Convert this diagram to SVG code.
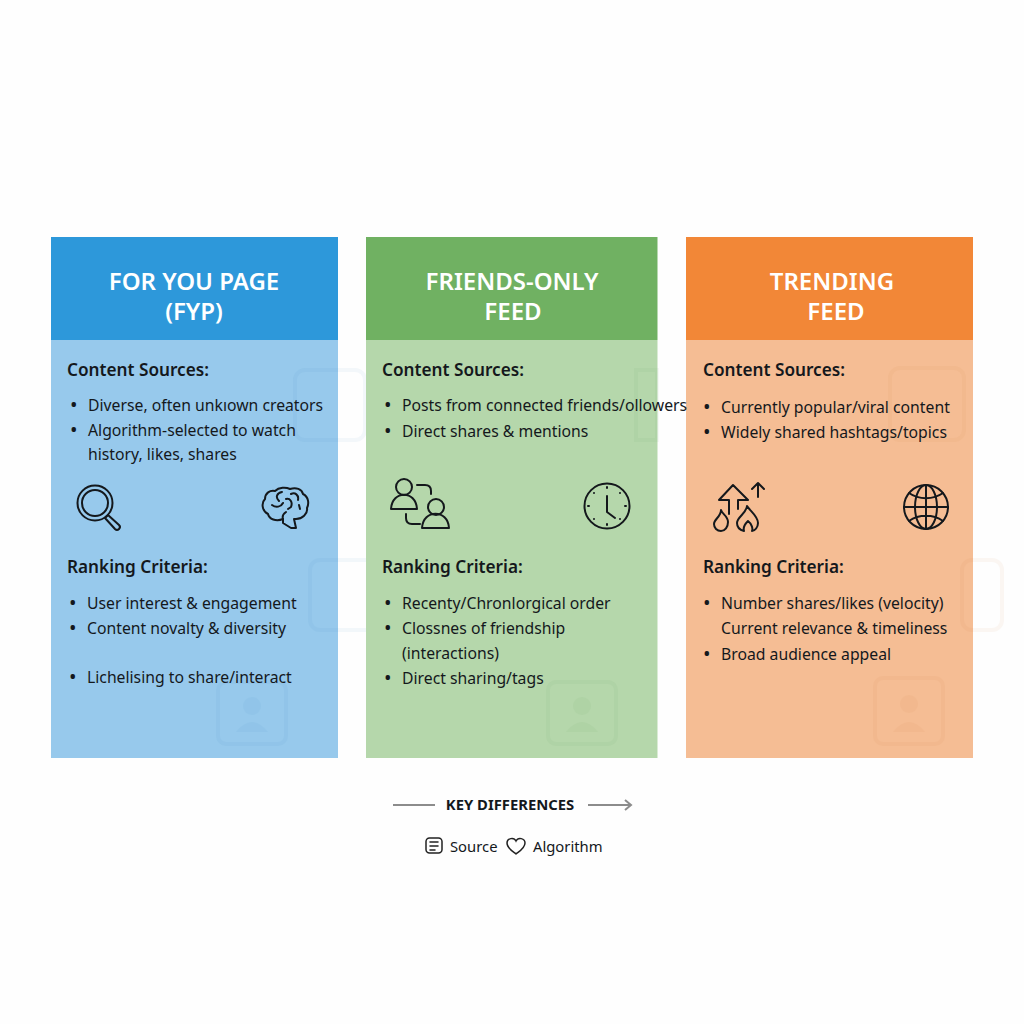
<svg xmlns="http://www.w3.org/2000/svg" width="1024" height="1024" viewBox="0 0 1024 1024">
<style>
text{font-family:"Noto Sans","Open Sans","Liberation Sans",sans-serif;fill:#14181c}
.h{font-size:24px;font-weight:600;fill:#fff;text-anchor:middle}
.s{font-size:17.200px;font-weight:600}
.b{font-size:15.750px}
.d{font-size:20px}
.i{fill:none;stroke:#14181c;stroke-width:2;stroke-linecap:round;stroke-linejoin:round}
.w{fill:none;stroke-width:4;opacity:.05}
.wf{stroke:none;opacity:.05}
</style>
<rect width="1024" height="1024" fill="#fefefe"/>
<g id="fyp">
<rect x="51" y="340" width="287" height="418" fill="#97c9ec"/>
<rect x="51" y="237" width="287" height="103" fill="#2d98da"/>
<g stroke="#2d7fb8" class="w"><rect x="295" y="370" width="70" height="70" rx="10"/><rect x="310" y="560" width="70" height="70" rx="10"/><rect x="218" y="682" width="68" height="62" rx="8"/></g>
<g fill="#2d7fb8" class="wf"><circle cx="252" cy="706" r="9"/><path d="M236 732q16-20 32 0z"/></g>
<text class="h" x="194" y="290">FOR YOU PAGE</text><text class="h" x="194" y="320">(FYP)</text>
<text class="s" x="67" y="376">Content Sources:</text>
<text class="d" x="70" y="412">•</text><text class="b" x="88" y="411">Diverse, often unkıown creators</text>
<text class="d" x="70" y="437">•</text><text class="b" x="88" y="436">Algorithm-selected to watch</text>
<text class="b" x="88" y="460">history, likes, shares</text>
<g class="i"><circle cx="95" cy="503" r="17.500"/><circle cx="95" cy="503" r="13"/><path d="M105 518l3-3 11 10a2.700 2.700 0 0 1-4 4z"/></g>
<g class="i"><path d="M283 519c-7 3-14 0-15-5-6-3-7-11-3-15 0-6 5-9 10-8 4-4 11-4 15-2 6-2 12 0 13 5 6 3 6 10 4 14 1 6-5 11-11 11h-2l2 9h-5l-8-5z"/><path d="M272 505c4 3 9 2 11-2M282 492c-5 1-7 5-3 9M291 494c4-2 8 1 7 6M286 499c4-1 7 3 5 8l-3 2M299 505l1 4M283 519c-1-3 0-5 3-7"/></g>
<text class="s" x="67" y="573">Ranking Criteria:</text>
<text class="d" x="69" y="610">•</text><text class="b" x="87" y="609">User interest &amp; engagement</text>
<text class="d" x="69" y="635">•</text><text class="b" x="87" y="634">Content novalty &amp; diversity</text>
<text class="d" x="69" y="684">•</text><text class="b" x="87" y="683">Lichelising to share/interact</text>
</g>
<g id="trending">
<rect x="686" y="340" width="287" height="418" fill="#f5bd94"/>
<rect x="686" y="237" width="287" height="103" fill="#f28737"/>
<g stroke="#c96f2c" class="w"><rect x="890" y="368" width="74" height="72" rx="10"/><rect x="962" y="560" width="40" height="70" rx="10"/><rect x="875" y="678" width="68" height="66" rx="8"/></g>
<g fill="#c96f2c" class="wf"><circle cx="909" cy="704" r="9"/><path d="M893 732q16-20 32 0z"/></g>
<text class="h" x="832" y="290">TRENDING</text><text class="h" x="836" y="320">FEED</text>
<text class="s" x="703" y="376">Content Sources:</text>
<text class="d" x="703" y="414">•</text><text class="b" x="721" y="413">Currently popular/viral content</text>
<text class="d" x="703" y="439">•</text><text class="b" x="721" y="438">Widely shared hashtags/topics</text>
<g class="i"><path d="M729 514v-14h-10l14-15 15 15h-10v9M758 497v-14M752 489l6-6 6 6"/><path d="M721 510c1 4 7 6 7 12 0 5-3 9-7 9-4 0-7-3-7-7 0-5 7-7 7-14z"/><path d="M747 506c3 5 11 10 11 17 0 4-3 8-6 8 1-2 0-7-4-10-3 3-5 7-4 10-4-1-7-4-7-8 0-6 9-9 10-17z"/></g>
<g class="i"><circle cx="926" cy="507" r="22"/><ellipse cx="926" cy="507" rx="11" ry="22"/><path d="M926 485v44M904 507h44M909 493c10 7 24 7 34 0M909 521c10-7 24-7 34 0"/></g>
<text class="s" x="703" y="573">Ranking Criteria:</text>
<text class="d" x="703" y="610">•</text><text class="b" x="721" y="609">Number shares/likes (velocity)</text>
<text class="b" x="721" y="634">Current relevance &amp; timeliness</text>
<text class="d" x="703" y="661">•</text><text class="b" x="721" y="660">Broad audience appeal</text>
</g>
<g id="friends">
<rect x="366" y="340" width="291.500" height="418" fill="#b5d7ab"/>
<rect x="366" y="237" width="291.500" height="103" fill="#70b162"/>
<g stroke="#4f8f45" class="w"><rect x="636" y="370" width="21" height="70" rx="0"/><rect x="548" y="682" width="68" height="62" rx="8"/></g>
<g fill="#4f8f45" class="wf"><circle cx="582" cy="706" r="9"/><path d="M566 732q16-20 32 0z"/></g>
<text class="h" x="512" y="290">FRIENDS-ONLY</text><text class="h" x="513" y="320">FEED</text>
<text class="s" x="382" y="376">Content Sources:</text>
<text class="d" x="384" y="412">•</text><text class="b" x="402" y="411">Posts from connected friends/ollowers</text>
<text class="d" x="384" y="438">•</text><text class="b" x="402" y="437">Direct shares &amp; mentions</text>
<g class="i"><circle cx="404" cy="487" r="8"/><path d="M391 509c1-19 25-19 26 0zM417 485h8c4 0 6 2 6 6v3M406 514v4c0 4 2 6 6 6h8"/><circle cx="436" cy="507" r="8"/><path d="M422 528c1-19 26-19 27 0z"/></g>
<g class="i"><circle cx="607" cy="506" r="22.500"/><path d="M607 496v16l8 6"/><path d="M607 487v1M607 524v1M588 506h1M625 506h1M594 493h0M620 493h0M594 519h0M620 519h0"/></g>
<text class="s" x="382" y="573">Ranking Criteria:</text>
<text class="d" x="384" y="610">•</text><text class="b" x="402" y="609">Recenty/Chronlorgical order</text>
<text class="d" x="384" y="635">•</text><text class="b" x="402" y="634">Clossnes of friendship</text>
<text class="b" x="402" y="659">(interactions)</text>
<text class="d" x="384" y="685">•</text><text class="b" x="402" y="684">Direct sharing/tags</text>
</g>
<g id="connectors" fill="none" stroke="#8c8c8c" stroke-width="2">
<path d="M393 805h42M588 805h43M625 800l6 5-6 5"/>
</g>
<g id="legend">
<text x="510" y="810" font-size="14.800" font-weight="700" text-anchor="middle">KEY DIFFERENCES</text>
<g fill="none" stroke="#222" stroke-width="1.500" stroke-linecap="round"><rect x="426" y="838" width="16" height="15" rx="3.500"/><path d="M430 842h8M430 846h8M430 850h5"/></g>
<text x="450" y="852" font-size="14.800" fill="#333">Source</text>
<path d="M516 854c-4-3-9-6-9-11 0-5 7-6 9-2 2-4 9-3 9 2 0 5-5 8-9 11z" fill="none" stroke="#222" stroke-width="1.500"/>
<text x="533" y="852" font-size="14.800" fill="#333">Algorithm</text>
</g>
</svg>
